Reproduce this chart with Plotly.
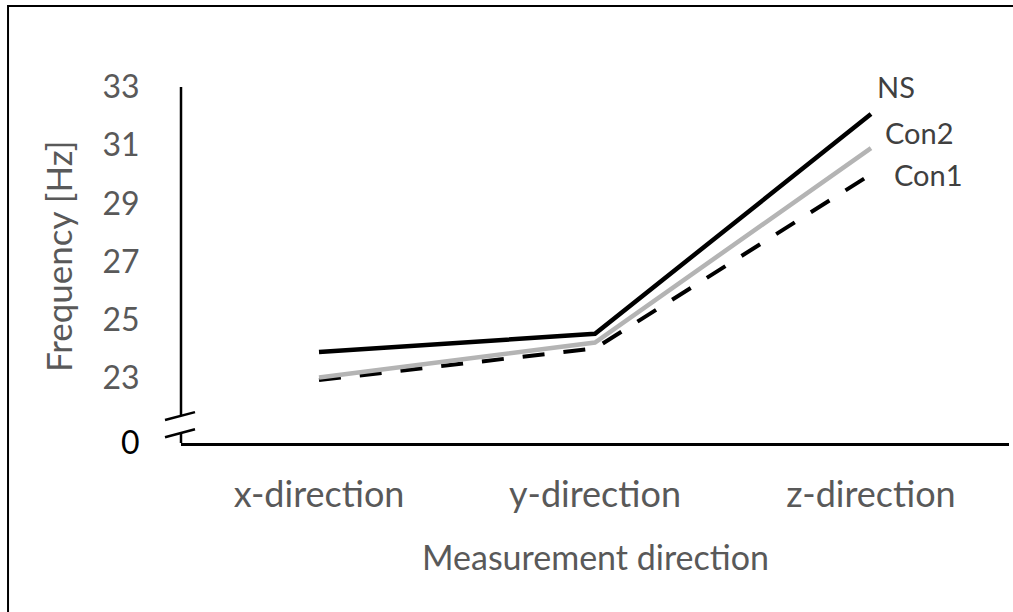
import plotly.graph_objects as go

# Measured natural frequencies per direction
directions = ["x-direction", "y-direction", "z-direction"]
ns_freq = [23.9, 24.52, 32.07]
con2_freq = [23.02, 24.22, 30.9]
con1_freq = [22.93, 24.02, 30.0]

series_names = ["NS", "Con2", "Con1"]

# Broken value axis: the bottom of the axis stands for 0
axis_floor = 20.77
axis_top = 33
tick_values = [axis_floor, 23, 25, 27, 29, 31, 33]
tick_labels = ["<span style='color:#000000'>0</span>", "23", "25", "27", "29", "31", "33"]

# Where the vertical axis is interrupted (in axis units)
break_upper = 21.73
break_lower = 21.14

FONT = "Lato"
GREY = "#595959"

fig = go.Figure()

fig.add_trace(go.Scatter(
    x=directions, y=con1_freq, mode="lines", name=series_names[2],
    line=dict(color="#000000", width=4, dash="22px,19px"),
))
fig.add_trace(go.Scatter(
    x=directions, y=con2_freq, mode="lines", name=series_names[1],
    line=dict(color="#b4b4b4", width=4.5),
))
fig.add_trace(go.Scatter(
    x=directions, y=ns_freq, mode="lines", name=series_names[0],
    line=dict(color="#000000", width=4.5),
))

# Series labels next to the last point of each line
label_offsets = {"NS": (4, 28), "Con2": (12, 16), "Con1": (21, 0)}
for name, vals in zip(series_names, [ns_freq, con2_freq, con1_freq]):
    dx, dy = label_offsets[name]
    fig.add_annotation(
        x=directions[-1], y=vals[-1], text=name, showarrow=False,
        xanchor="left", yanchor="middle", xshift=dx, yshift=dy,
        font=dict(family=FONT, size=29, color="#404040"),
    )

shapes = []
axis_line = dict(color="#000000", width=2.5)
# vertical axis, drawn in two pieces around the break
shapes.append(dict(type="line", xref="paper", yref="y", x0=0, x1=0,
                   y0=break_upper, y1=axis_top, line=axis_line))
shapes.append(dict(type="line", xref="paper", yref="y", x0=0, x1=0,
                   y0=axis_floor, y1=break_lower, line=axis_line))
# break marks
for yb in (break_upper, break_lower):
    shapes.append(dict(type="line", xref="paper", yref="y",
                       x0=-0.0193, x1=0.0169, y0=yb - 0.17, y1=yb + 0.10,
                       line=dict(color="#000000", width=2.5)))
# outer frame (left and top edges)
shapes.append(dict(type="path", xref="paper", yref="paper",
                   path="M -0.2089,-0.48 L -0.2089,1.2275 L 1.01,1.2275",
                   line=dict(color="#000000", width=2)))

fig.update_layout(
    width=1013, height=612, autosize=False,
    margin=dict(l=181, r=4, t=87, b=169),
    paper_bgcolor="white", plot_bgcolor="white",
    showlegend=False,
    shapes=shapes,
    xaxis=dict(
        type="category", range=[-0.5, 2.5],
        showline=True, linecolor="#000000", linewidth=2.5,
        showgrid=False, zeroline=False,
        ticks="outside", ticklen=18, tickcolor="rgba(0,0,0,0)",
        tickfont=dict(family=FONT, size=36, color=GREY),
    ),
    yaxis=dict(
        range=[axis_floor, axis_top],
        tickmode="array", tickvals=tick_values, ticktext=tick_labels,
        showline=False, showgrid=False, zeroline=False,
        ticks="outside", ticklen=34, tickcolor="rgba(0,0,0,0)",
        tickfont=dict(family=FONT, size=32, color=GREY),
    ),
    annotations=list(fig.layout.annotations) + [
        dict(text="Frequency [Hz]", xref="paper", yref="paper",
             x=-0.1486, y=0.525, textangle=-90, showarrow=False,
             xanchor="center", yanchor="middle",
             font=dict(family=FONT, size=35, color=GREY)),
        dict(text="Measurement direction", xref="paper", yref="paper",
             x=0.501, y=-0.32, showarrow=False,
             xanchor="center", yanchor="middle",
             font=dict(family=FONT, size=34, color=GREY)),
    ],
)

fig.write_html("out.html")
